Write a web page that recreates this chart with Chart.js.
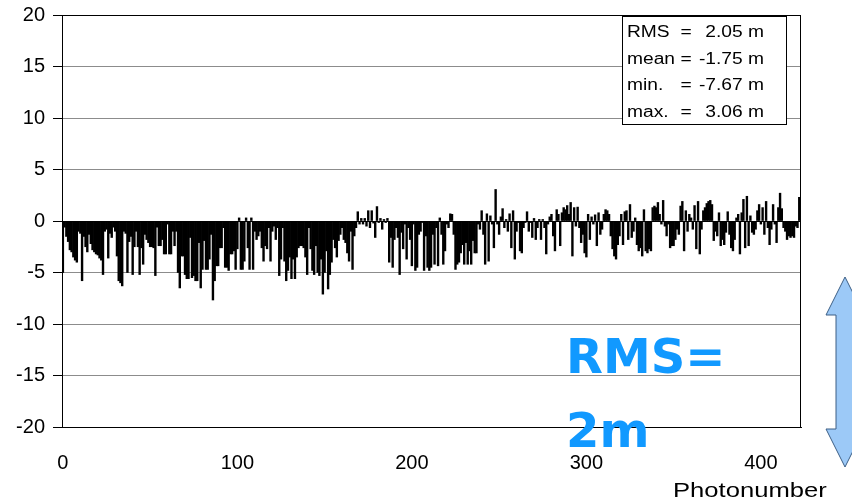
<!DOCTYPE html>
<html>
<head>
<meta charset="utf-8">
<title>Photonumber residuals</title>
<script src="https://cdn.jsdelivr.net/npm/chart.js@4.4.1/dist/chart.umd.min.js"></script>
<style>
  html, body { margin: 0; padding: 0; background: #fff; }
  canvas { display: block; }
</style>
</head>
<body>
<canvas id="residualChart" width="852" height="503"></canvas>
<script>
// Residual per photo in metres, listed in photonumber order (blocks of 47)
const residualsA = [
  -5.0, -0.6, -1.5, -2.0, -2.8, -3.0, -3.5, -3.8, -4.0, -1.0,
  -1.2, -5.8, -1.5, -2.5, -3.0, -1.3, -2.2, -2.8, -3.0, -3.2,
  -3.3, -3.6, -3.8, -5.2, -1.0, -0.8, -3.6, -1.2, -1.6, -0.6,
  -1.0, -3.4, -5.8, -6.0, -6.3, -1.0, -1.2, -5.0, -2.0, -1.5,
  -5.2, -2.5, -1.0, -2.5, -5.2, -2.6, -4.2
];
const residualsB = [
  -1.3, -1.8, -2.1, -2.5, -2.5, -2.6, -5.3, -0.6, -2.4, -2.4,
  -1.8, -3.2, -3.2, -0.3, -3.2, -3.2, -1.0, -2.4, -1.0, -5.0,
  -6.5, -3.4, -3.4, -5.2, -5.6, -5.6, -1.6, -5.5, -5.3, -5.8,
  -5.8, -2.1, -6.5, -4.7, -1.9, -4.7, -4.7, -3.7, -1.3, -7.67,
  -5.8, -4.35, -4.35, -2.6, -2.6, -0.65, -4.5
];
const residualsC = [
  -4.5, -4.8, -3.2, -3.2, -2.9, -4.7, -2.7, 0.3, -4.7, -4.7,
  -3.9, 0.3, -2.6, -4.7, 0.3, -4.7, -1.0, -1.8, -1.45, -1.0,
  -2.6, -3.9, -2.4, -2.7, -0.65, -3.9, -1.0, -0.5, -1.8, -0.65,
  -5.3, -3.7, -0.65, -3.9, -5.8, -4.8, -3.5, -5.6, -3.7, -5.6,
  -3.5, -2.6, -2.4, -2.4, -2.6, -3.5, -5.2
];
const residualsD = [
  -0.65, -2.7, -4.8, -5.2, -2.4, -5.0, -5.3, -3.7, -7.1, -5.0,
  -2.9, -6.6, -5.2, -4.0, -1.8, -2.6, -3.5, -1.9, -1.3, -0.65,
  -1.8, -2.1, -3.1, -3.9, -1.0, -4.7, -1.45, -0.65, 0.9, -0.3,
  0.25, -0.3, 0.25, -0.5, 1.0, -0.65, 1.0, -0.2, -1.6, 1.4,
  -0.15, 0.25, -0.8, 0.15, -0.15, 0.25, -4.0
];
const residualsE = [
  -1.6, -4.5, -1.8, -0.65, -1.6, -5.2, -1.1, -2.7, -0.3, -3.7,
  -0.65, -1.8, -4.35, -0.3, -4.8, -4.5, -1.3, -1.0, -0.15, -4.8,
  -1.45, -4.5, -4.8, -4.5, -1.3, -4.2, -0.65, -4.35, 0.3, -1.3,
  -4.2, -2.9, -0.3, -0.65, 0.7, 0.65, -1.3, -4.7, -4.2, -4.0,
  -3.1, -2.3, -4.2, -2.1, -4.2, -2.9, -4.2
];
const residualsF = [
  -1.9, -3.1, -3.1, -0.3, -0.8, 1.0, -1.3, -4.2, 0.7, -3.9,
  0.5, -0.3, -2.6, 3.06, -0.3, -1.3, 0.4, 1.2, -0.65, 0.15,
  -1.0, 0.7, -2.6, 1.0, -3.7, -1.0, -0.15, -2.9, -3.1, -0.65,
  -0.15, 0.9, -1.0, -0.15, -1.6, 0.25, -1.8, -0.65, 0.15, -1.8,
  0.15, -0.65, -3.2, -0.3, 0.4, 0.65, -1.45
];
const residualsG = [
  -2.9, 1.1, 0.65, -2.4, 0.8, 1.3, 1.1, 1.5, 0.65, 1.8,
  -3.4, 1.3, -0.5, 1.35, -0.65, -2.1, -1.3, -3.1, -3.5, 0.65,
  -1.8, 0.4, -0.3, 0.6, -2.4, 0.8, -1.3, -0.8, 0.65, 1.1,
  1.0, 0.65, -1.45, -2.7, -3.4, -3.7, -2.3, -1.45, 0.65, -2.3,
  0.9, 1.0, -1.8, 1.6, -1.6, -1.0, 0.3
];
const residualsH = [
  -2.3, -2.9, -2.6, -3.4, 1.1, -2.9, -3.1, -2.7, -2.9, 1.3,
  1.45, 1.3, 1.8, 0.65, -0.3, 2.0, -0.5, -1.45, -0.3, -2.6,
  -2.4, -2.4, -1.8, -0.8, -1.3, 1.45, 1.9, -2.9, 1.0, -1.0,
  0.65, 0.3, -0.8, 1.5, -2.7, 1.9, -3.2, -0.8, 1.0, 1.3,
  1.7, 1.9, 2.0, 1.6, -1.9, -1.0, -1.45
];
const residualsI = [
  0.8, -2.4, -1.8, -2.3, -1.1, 0.9, -1.3, -2.6, -2.9, -1.8,
  0.3, 0.65, -3.2, 0.8, 2.1, -2.6, 2.4, -2.4, 0.5, -1.1,
  -1.3, -0.8, 1.0, 1.6, -0.3, 1.3, -1.3, 1.9, -0.65, -2.3,
  -0.8, 1.6, -0.3, -2.1, 1.3, 2.7, 1.2, -0.65, -1.0, -1.8,
  -1.45, -1.6, -1.45, -1.6, -0.5, -0.65, 2.3
];

const residuals = [].concat(residualsA, residualsB, residualsC, residualsD,
  residualsE, residualsF, residualsG, residualsH, residualsI);
const photonumbers = residuals.map((v, i) => i);

const xTicks = [0, 100, 200, 300, 400];
const yTicks = [-20, -15, -10, -5, 0, 5, 10, 15, 20];

// summary box + big annotation
const statNames = ['RMS', 'mean', 'min.', 'max.'];
const statValues = [2.05, -1.75, -7.67, 3.06];
const rmsNote = ['RMS=', '2m'];
const xTitle = 'Photonumber';

// text drawn a little wider than the font, like the rest of the figure
function stretchedText(ctx, text, x, y, align, sx) {
  ctx.save();
  ctx.translate(x, y);
  ctx.scale(sx, 1);
  ctx.textAlign = align;
  ctx.fillText(text, 0, 0);
  ctx.restore();
}

const overlayPlugin = {
  id: 'overlay',
  afterDraw(chart) {
    const ctx = chart.ctx;
    const a = chart.chartArea;
    ctx.save();

    // frame round the plot
    ctx.strokeStyle = '#000';
    ctx.lineWidth = 1;
    ctx.strokeRect(Math.round(a.left) + 0.5, Math.round(a.top) + 0.5,
      Math.round(a.right - a.left) - 1, Math.round(a.bottom - a.top));

    // statistics box
    ctx.fillStyle = '#fff';
    ctx.fillRect(622, 16, 165, 108);
    ctx.strokeRect(622.5, 16.5, 164, 108);
    ctx.fillStyle = '#000';
    ctx.font = '16px "Liberation Sans", Arial, sans-serif';
    ctx.textBaseline = 'alphabetic';
    statNames.forEach((name, i) => {
      const y = 37 + i * 26.6;
      stretchedText(ctx, name, 627, y, 'left', 1.2);
      stretchedText(ctx, '=', 686, y, 'center', 1.2);
      stretchedText(ctx, statValues[i].toFixed(2) + ' m', 764, y, 'right', 1.2);
    });

    // x axis title
    ctx.font = '21px "Liberation Sans", Arial, sans-serif';
    stretchedText(ctx, xTitle, 673, 497, 'left', 1.22);

    // big RMS note
    ctx.fillStyle = '#1199ff';
    ctx.font = 'bold 48px "DejaVu Sans", sans-serif';
    ctx.textAlign = 'left';
    ctx.fillText(rmsNote[0], 566, 373);
    ctx.fillText(rmsNote[1], 566, 447);

    // double-headed arrow on the right
    ctx.beginPath();
    ctx.moveTo(845, 277);
    ctx.lineTo(864, 315);
    ctx.lineTo(854, 315);
    ctx.lineTo(854, 429);
    ctx.lineTo(864, 429);
    ctx.lineTo(845, 467);
    ctx.lineTo(826, 429);
    ctx.lineTo(836, 429);
    ctx.lineTo(836, 315);
    ctx.lineTo(826, 315);
    ctx.closePath();
    ctx.fillStyle = '#9cc9f7';
    ctx.fill();
    ctx.strokeStyle = '#3d5f85';
    ctx.lineWidth = 1;
    ctx.stroke();

    ctx.restore();
  }
};

const tickFont = { family: '"Liberation Sans", Arial, sans-serif', size: 20 };

new Chart(document.getElementById('residualChart'), {
  type: 'bar',
  data: {
    datasets: [{
      data: photonumbers.map((x, i) => ({ x: x, y: residuals[i] })),
      backgroundColor: '#000',
      borderWidth: 0,
      barPercentage: 1,
      categoryPercentage: 1
    }]
  },
  options: {
    responsive: false,
    animation: false,
    events: [],
    layout: { padding: { top: 15, right: 51, left: 0, bottom: 0 } },
    plugins: {
      legend: { display: false },
      tooltip: { enabled: false }
    },
    scales: {
      x: {
        type: 'linear',
        min: -0.5,
        max: 423,
        offset: false,
        afterBuildTicks: (s) => { s.ticks = xTicks.map(v => ({ value: v })); },
        afterFit: (s) => { s.height = 76; s.paddingLeft = 0; s.paddingRight = 0; },
        grid: { display: false, drawTicks: false },
        border: { color: '#000', width: 1 },
        ticks: { color: '#000', font: tickFont, padding: 24, maxRotation: 0, autoSkip: false }
      },
      y: {
        min: -20,
        max: 20,
        afterBuildTicks: (s) => { s.ticks = yTicks.map(v => ({ value: v })); },
        // fixed axis width; labels may overhang the top edge
        afterFit: (s) => { s.width = 62; s.paddingTop = 0; s.paddingBottom = 0; },
        grid: {
          color: (c) => (c.tick && c.tick.value === 0 ? '#000' : '#8c8c8c'),
          tickColor: '#000',
          tickLength: 9,
          lineWidth: 1
        },
        border: { color: '#000', width: 1 },
        ticks: { color: '#000', font: tickFont, padding: 8 }
      }
    }
  },
  plugins: [overlayPlugin]
});
</script>
</body>
</html>
